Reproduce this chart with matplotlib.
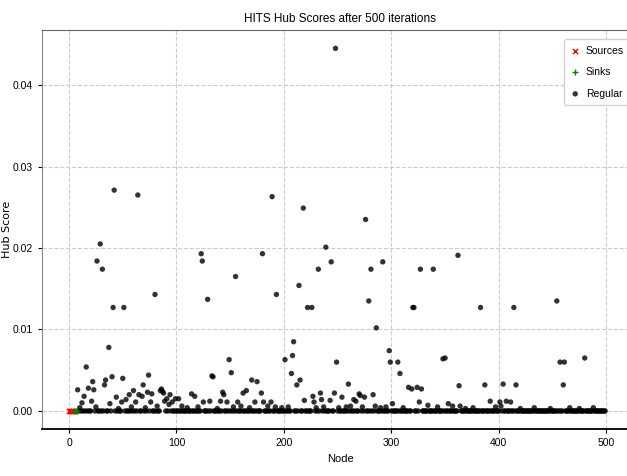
import matplotlib
matplotlib.use('Agg')
import matplotlib.pyplot as plt

# %% data
n_nodes = 500
source_nodes = [0, 1, 2, 3, 4]
sink_nodes = [5, 6, 7]

peak_nodes = [8, 10, 12, 14, 16, 18, 21, 22, 23, 25, 26, 29, 31, 33, 34, 37, 38, 40, 41, 42,
              44, 46, 49, 50, 51, 53, 56, 58, 60, 62, 64, 65, 68, 69, 71, 73, 74, 76, 77, 80,
              82, 85, 86, 87, 88, 89, 91, 93, 94, 96, 99, 102, 105, 110, 114, 117, 120, 123, 124, 125,
              129, 131, 133, 134, 138, 141, 143, 144, 147, 149, 151, 153, 155, 157, 160, 162, 165, 168, 170, 173,
              175, 179, 180, 181, 185, 188, 189, 192, 193, 198, 201, 204, 207, 208, 209, 212, 214, 215, 218, 219,
              222, 226, 227, 228, 230, 232, 234, 235, 237, 239, 243, 244, 247, 248, 249, 251, 254, 258, 260, 262,
              265, 267, 270, 271, 273, 275, 276, 279, 281, 283, 285, 286, 290, 292, 295, 298, 299, 301, 306, 308,
              311, 316, 319, 320, 321, 324, 326, 327, 328, 334, 339, 343, 348, 350, 353, 357, 362, 363, 364, 369,
              376, 383, 387, 392, 397, 401, 402, 404, 407, 411, 414, 416, 420, 433, 448, 454, 457, 460, 461, 466,
              475, 480, 488]
peak_scores = [0.0026, 0.0004, 0.0010, 0.0018, 0.0054, 0.0028, 0.0012, 0.0036, 0.0026, 0.0005,
               0.0184, 0.0205, 0.0174, 0.0032, 0.0038, 0.0078, 0.0009, 0.0042, 0.0127, 0.0271,
               0.0017, 0.0003, 0.0011, 0.0040, 0.0127, 0.0014, 0.0020, 0.0005, 0.0025, 0.0011,
               0.0265, 0.0020, 0.0018, 0.0032, 0.0004, 0.0023, 0.0044, 0.0011, 0.0021, 0.0143,
               0.0006, 0.0025, 0.0027, 0.0024, 0.0022, 0.0012, 0.0015, 0.0008, 0.0020, 0.0011,
               0.0015, 0.0015, 0.0006, 0.0004, 0.0021, 0.0018, 0.0005, 0.0193, 0.0184, 0.0011,
               0.0137, 0.0012, 0.0043, 0.0042, 0.0003, 0.0012, 0.0023, 0.0020, 0.0011, 0.0063,
               0.0047, 0.0005, 0.0165, 0.0011, 0.0006, 0.0022, 0.0025, 0.0004, 0.0038, 0.0011,
               0.0036, 0.0022, 0.0193, 0.0011, 0.0006, 0.0011, 0.0263, 0.0005, 0.0143, 0.0004,
               0.0063, 0.0005, 0.0046, 0.0068, 0.0085, 0.0032, 0.0154, 0.0038, 0.0249, 0.0013,
               0.0127, 0.0127, 0.0018, 0.0011, 0.0004, 0.0174, 0.0022, 0.0014, 0.0005, 0.0201,
               0.0013, 0.0183, 0.0022, 0.0445, 0.0060, 0.0004, 0.0017, 0.0005, 0.0033, 0.0006,
               0.0014, 0.0012, 0.0021, 0.0019, 0.0005, 0.0017, 0.0235, 0.0135, 0.0174, 0.0020,
               0.0006, 0.0102, 0.0004, 0.0183, 0.0005, 0.0074, 0.0060, 0.0009, 0.0060, 0.0046,
               0.0004, 0.0029, 0.0027, 0.0127, 0.0127, 0.0029, 0.0011, 0.0174, 0.0027, 0.0007,
               0.0174, 0.0005, 0.0064, 0.0065, 0.0009, 0.0006, 0.0191, 0.0031, 0.0006, 0.0003,
               0.0004, 0.0127, 0.0032, 0.0012, 0.0005, 0.0011, 0.0006, 0.0033, 0.0012, 0.0011,
               0.0127, 0.0032, 0.0003, 0.0004, 0.0003, 0.0135, 0.0060, 0.0032, 0.0060, 0.0004,
               0.0003, 0.0065, 0.0004]

score_map = dict(zip(peak_nodes, peak_scores))
regular_nodes = [n for n in range(n_nodes) if n not in source_nodes and n not in sink_nodes]
regular_scores = [score_map.get(n, 0.0) for n in regular_nodes]
source_scores = [0.0 for n in source_nodes]
sink_scores = [0.0 for n in sink_nodes]

# %% plot
plt.rcParams['font.family'] = ['Liberation Sans', 'DejaVu Sans']

fig = plt.figure(figsize=(6.27, 4.76), dpi=100)
# right part of the axes runs past the figure edge, as in the reference
ax = fig.add_axes([0.0673, 0.0985, 0.951, 0.838])

ax.scatter(source_nodes, source_scores, c='red', marker='x', s=14, linewidths=1, label='Sources', zorder=3)
ax.scatter(sink_nodes, sink_scores, c='green', marker='+', s=14, linewidths=1, label='Sinks', zorder=3)
ax.scatter(regular_nodes, regular_scores, c='black', marker='o', s=15, alpha=0.8,
           edgecolors='none', label='Regular', zorder=2)

ax.set_xlim(-25, 530)
ax.set_title('HITS Hub Scores after 500 iterations', fontsize=8.5)
ax.set_xlabel('Node', fontsize=8)
ax.set_ylabel('Hub Score', fontsize=8, family='DejaVu Sans')
ax.yaxis.set_label_coords(-0.05, 0.5)
ax.tick_params(labelsize=7.5, length=3)
ax.grid(True, linestyle='--', color='#cccccc', linewidth=0.8)
ax.set_axisbelow(True)

for side in ['left', 'right']:
    ax.spines[side].set_color('#888888')
ax.spines['top'].set_color('#666666')
ax.spines['bottom'].set_linewidth(1.3)

ax.legend(loc='upper left', bbox_to_anchor=(0.866, 0.99), fontsize=7.5, labelspacing=1.1,
          handlelength=1.0, handletextpad=0.5, borderpad=0.6, framealpha=0.9)

fig.savefig('out.png', dpi=100)
